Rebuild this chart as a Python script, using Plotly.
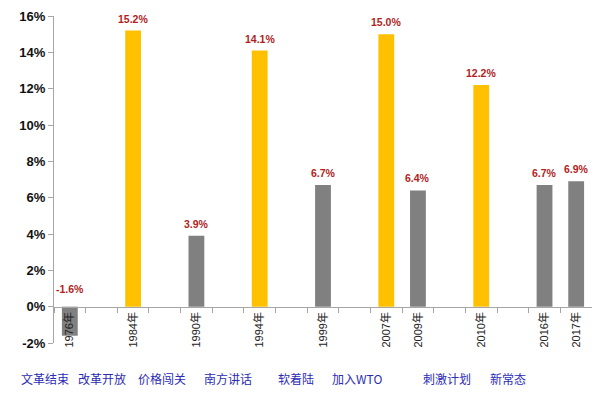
import plotly.graph_objects as go

# ---- data ----
years = ["1976年", "1984年", "1990年", "1994年", "1999年", "2007年", "2009年", "2010年", "2016年", "2017年"]
growth = [-1.6, 15.2, 3.9, 14.1, 6.7, 15.0, 6.4, 12.2, 6.7, 6.9]
highlight = [False, True, False, True, False, True, False, True, False, False]
events = ["文革结束", "改革开放", "价格闯关", "南方讲话", "软着陆", "加入WTO", "刺激计划", "新常态"]
y_ticks = [-2, 0, 2, 4, 6, 8, 10, 12, 14, 16]

# ---- layout helpers (slot order with gaps) ----
slot_order = ["1976年", "g1", "1984年", "g2", "1990年", "g3", "1994年", "g4",
              "1999年", "g5", "2007年", "2009年", "g6", "2010年", "g7", "2016年", "2017年"]
event_x = [-0.017, 0.089, 0.201, 0.323, 0.450, 0.563, 0.730, 0.844]

GOLD = "#FFC000"
GRAY = "#808080"
RED = "#B01E1E"
BLUE = "#2B2BB5"

val = dict(zip(years, growth))
hl = dict(zip(years, highlight))
x_all = slot_order
y_all = [val.get(s) for s in slot_order]
colors = [(GOLD if hl.get(s) else GRAY) for s in slot_order]

fig = go.Figure()
fig.add_trace(go.Bar(
    x=x_all, y=y_all, marker=dict(color=colors, line=dict(width=0)),
    width=0.5, hoverinfo="skip", showlegend=False,
))

# value labels
for yr, v in zip(years, growth):
    fig.add_annotation(
        x=yr, y=max(v, 0), xref="x", yref="y",
        text=f"{v:.1f}%", showarrow=False, yanchor="bottom",
        yshift=4 if v >= 0 else 10,
        font=dict(family="Liberation Sans, Arial", size=10.5, color=RED, weight="bold"),
    )

# event labels
for t, ex in zip(events, event_x):
    fig.add_annotation(
        x=ex, y=-0.11, xref="paper", yref="paper", text=t, showarrow=False,
        xanchor="center", yanchor="middle",
        font=dict(family="Noto Sans CJK SC", size=12, color=BLUE),
    )

ymin, ymax = y_ticks[0], y_ticks[-1]
# page body has an 8px default margin, so the figure is drawn 8px smaller
fig.update_layout(
    width=592, height=385,
    margin=dict(l=46, r=8, t=8, b=50),
    plot_bgcolor="white", paper_bgcolor="white",
    bargap=0.5,
    xaxis=dict(
        type="category", categoryorder="array", categoryarray=slot_order,
        range=[-0.5, len(slot_order) - 0.5],
        tickvals=slot_order,
        ticktext=[s if s in val else "" for s in slot_order],
        tickangle=-90, tickson="boundaries", ticks="outside", ticklen=5,
        tickcolor="#A6A6A6", showline=True, linecolor="#A6A6A6", linewidth=1,
        showgrid=False, anchor="free", position=(0 - ymin) / (ymax - ymin),
        automargin=False,
        tickfont=dict(family="Liberation Sans, Noto Sans CJK SC", size=11, color="#222222"),
    ),
    yaxis=dict(
        range=[ymin, ymax], tickvals=y_ticks, ticktext=[f"{t}%" for t in y_ticks],
        showgrid=False, zeroline=False, showline=True, linecolor="#A6A6A6",
        ticks="outside", ticklen=5, tickcolor="#A6A6A6", automargin=False,
        tickfont=dict(family="Liberation Sans, Arial", size=13, color="#111111", weight="bold"),
    ),
)

fig.write_html("out.html")
